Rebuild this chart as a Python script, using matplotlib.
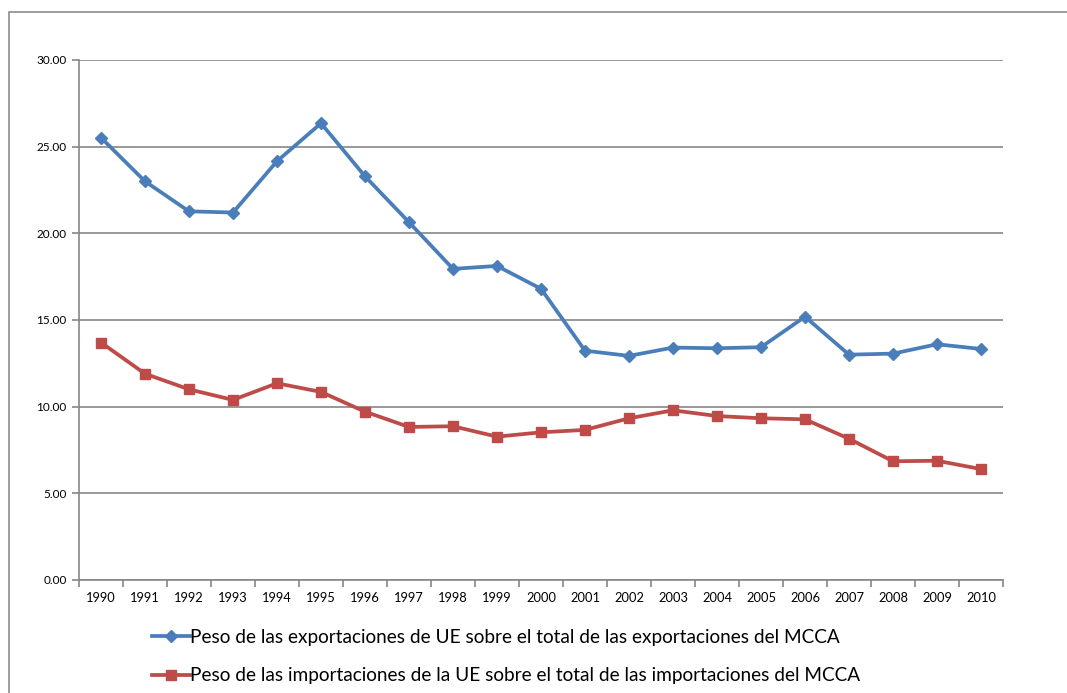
import matplotlib
matplotlib.use("Agg")
import matplotlib.pyplot as plt
from matplotlib.patches import Rectangle
import numpy as np

years = [str(y) for y in range(1990, 2011)]
exports = [25.52, 23.0, 21.27, 21.2, 24.16, 26.35, 23.29, 20.64, 17.95, 18.12, 16.8,
           13.23, 12.93, 13.41, 13.37, 13.43, 15.19, 13.0, 13.06, 13.6, 13.33]
imports = [13.7, 11.9, 11.0, 10.39, 11.35, 10.85, 9.71, 8.83, 8.87, 8.27, 8.52,
           8.66, 9.33, 9.79, 9.46, 9.33, 9.27, 8.15, 6.85, 6.88, 6.4]
yticks = [0, 5, 10, 15, 20, 25, 30]
label_exp = "Peso de las exportaciones de UE sobre el total de las exportaciones del MCCA"
label_imp = "Peso de las importaciones de la UE sobre el total de las importaciones del MCCA"

plt.rcParams['font.family'] = ['Lato', 'DejaVu Sans']

fig = plt.figure(figsize=(10.67, 6.93), dpi=100)
# outer chart border (cut off at right and bottom)
fig.patches.append(Rectangle((9/1067, -0.1), 1.2, 1 - 12/693 + 0.1, transform=fig.transFigure,
                             fill=False, edgecolor='#8c8c8c', linewidth=1.2))

ax = fig.add_axes([79/1067, 1 - 580/693, (1003 - 79)/1067, (580 - 60)/693])
x = np.arange(len(years))
blue = '#4A7EBB'
red = '#BE4B48'
l1, = ax.plot(x, exports, color=blue, lw=2.7, marker='D', markersize=6.5, label=label_exp, zorder=3)
l2, = ax.plot(x, imports, color=red, lw=2.7, marker='s', markersize=7.5, label=label_imp, zorder=3)

ax.set_xlim(-0.5, len(years) - 0.5)
ax.set_ylim(0, 30)
ax.set_yticks(yticks)
ax.set_yticklabels([f"{v:.2f}" for v in yticks], fontsize=8.5)
ax.yaxis.grid(True, color='#868686', lw=1.2)
ax.set_axisbelow(True)

ax.set_xticks(np.arange(-0.5, len(years), 1.0))
ax.set_xticklabels([])
ax.set_xticks(x, minor=True)
ax.set_xticklabels(years, minor=True, fontsize=9.3)
ax.tick_params(axis='x', which='major', length=5, color='#868686', width=1.2, direction='out')
ax.tick_params(axis='x', which='minor', length=0, pad=9)
ax.tick_params(axis='y', length=5, color='#868686', width=1.2, pad=4)

for s in ['top', 'right']:
    ax.spines[s].set_visible(False)
for s in ['left', 'bottom']:
    ax.spines[s].set_color('#868686')
    ax.spines[s].set_linewidth(1.2)

fig.legend(handles=[l1, l2], loc='upper left', bbox_to_anchor=(152/1067, 1 - 629/693),
           frameon=False, fontsize=13.7, handlelength=2.0, handletextpad=0.0,
           labelspacing=1.12, borderaxespad=0, borderpad=0)

fig.savefig("out.png", dpi=100)
